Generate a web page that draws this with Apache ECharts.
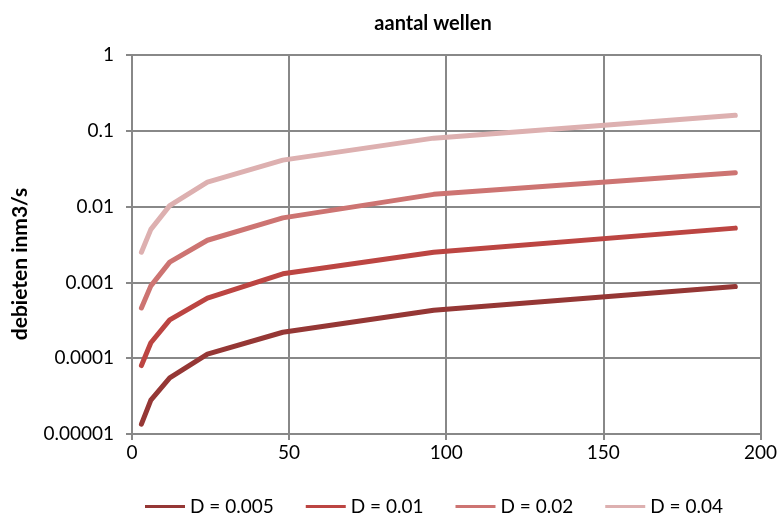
<!DOCTYPE html>
<html>
<head>
<meta charset="utf-8">
<title>aantal wellen</title>
<script src="https://cdn.jsdelivr.net/npm/echarts@6/dist/echarts.min.js"></script>
<style>
  html, body { margin: 0; padding: 0; background: #fff; }
  #chart { width: 780px; height: 522px; }
</style>
</head>
<body>
<div id="chart"></div>
<script>
// Number of wells (x) and flow per series (m3/s)
const wells = [3, 6, 12, 24, 48, 96, 192];
const seriesNames = ['D = 0.005', 'D = 0.01', 'D = 0.02', 'D = 0.04'];
const flowD005 = [0.0000135, 0.000028, 0.000055, 0.000113, 0.00022, 0.00043, 0.00088];
const flowD01  = [0.00008, 0.00016, 0.00032, 0.00062, 0.0013, 0.0025, 0.0052];
const flowD02  = [0.00046, 0.0009, 0.00185, 0.0036, 0.0071, 0.0145, 0.028];
const flowD04  = [0.0025, 0.005, 0.0103, 0.021, 0.041, 0.08, 0.16];
const yTickLabels = ['0.00001', '0.0001', '0.001', '0.01', '0.1', '1'];
const xTicks = [0, 50, 100, 150, 200];

const colors = ['#953735', '#bc4542', '#cd7472', '#ddb0b0'];
const allFlows = [flowD005, flowD01, flowD02, flowD04];

const font = 'Lato, "Open Sans", sans-serif';

const chart = echarts.init(document.getElementById('chart'), null, { renderer: 'canvas' });

chart.setOption({
  animation: false,
  backgroundColor: '#fff',
  title: {
    text: 'aantal wellen',
    left: 428,
    top: 9,
    textAlign: 'center',
    textStyle: { fontFamily: font, fontWeight: 'bold', fontSize: 20, color: '#000' }
  },
  legend: {
    bottom: 1,
    left: 140,
    itemWidth: 40,
    itemHeight: 3,
    itemGap: 32,
    icon: 'rect',
    data: seriesNames,
    textStyle: { fontFamily: font, fontSize: 19, color: '#000' }
  },
  grid: { left: 132, right: 19, top: 55, bottom: 88 },
  graphic: [{
    type: 'text',
    x: 20,
    y: 264,
    rotation: Math.PI / 2,
    style: {
      text: 'debieten inm3/s',
      fontFamily: font,
      fontWeight: 'bold',
      fontSize: 21,
      fill: '#000',
      align: 'center',
      verticalAlign: 'middle'
    }
  }],
  xAxis: {
    type: 'value',
    min: xTicks[0],
    max: xTicks[xTicks.length - 1],
    interval: 50,
    axisLine: { show: true, lineStyle: { color: '#888', width: 2 } },
    axisTick: { show: true, length: 6, lineStyle: { color: '#888', width: 2 } },
    axisLabel: { fontFamily: font, fontSize: 19, color: '#000', margin: 9 },
    splitLine: { show: true, lineStyle: { color: '#888', width: 2 } }
  },
  yAxis: {
    type: 'log',
    logBase: 10,
    min: 0.00001,
    max: 1,
    axisLine: { show: true, lineStyle: { color: '#888', width: 2 } },
    axisTick: { show: true, length: 6, lineStyle: { color: '#888', width: 2 } },
    axisLabel: {
      fontFamily: font, fontSize: 19, color: '#000', margin: 18,
      formatter: function (v) {
        const idx = Math.round(Math.log10(v)) + 5;
        return yTickLabels[idx] !== undefined ? yTickLabels[idx] : '';
      }
    },
    splitLine: { show: true, lineStyle: { color: '#888', width: 2 } }
  },
  series: seriesNames.map(function (name, i) {
    return {
      name: name,
      type: 'line',
      showSymbol: false,
      symbol: 'none',
      color: colors[i],
      lineStyle: { width: 5, color: colors[i], cap: 'round', join: 'round' },
      data: wells.map(function (x, j) { return [x, allFlows[i][j]]; })
    };
  })
});
</script>
</body>
</html>
